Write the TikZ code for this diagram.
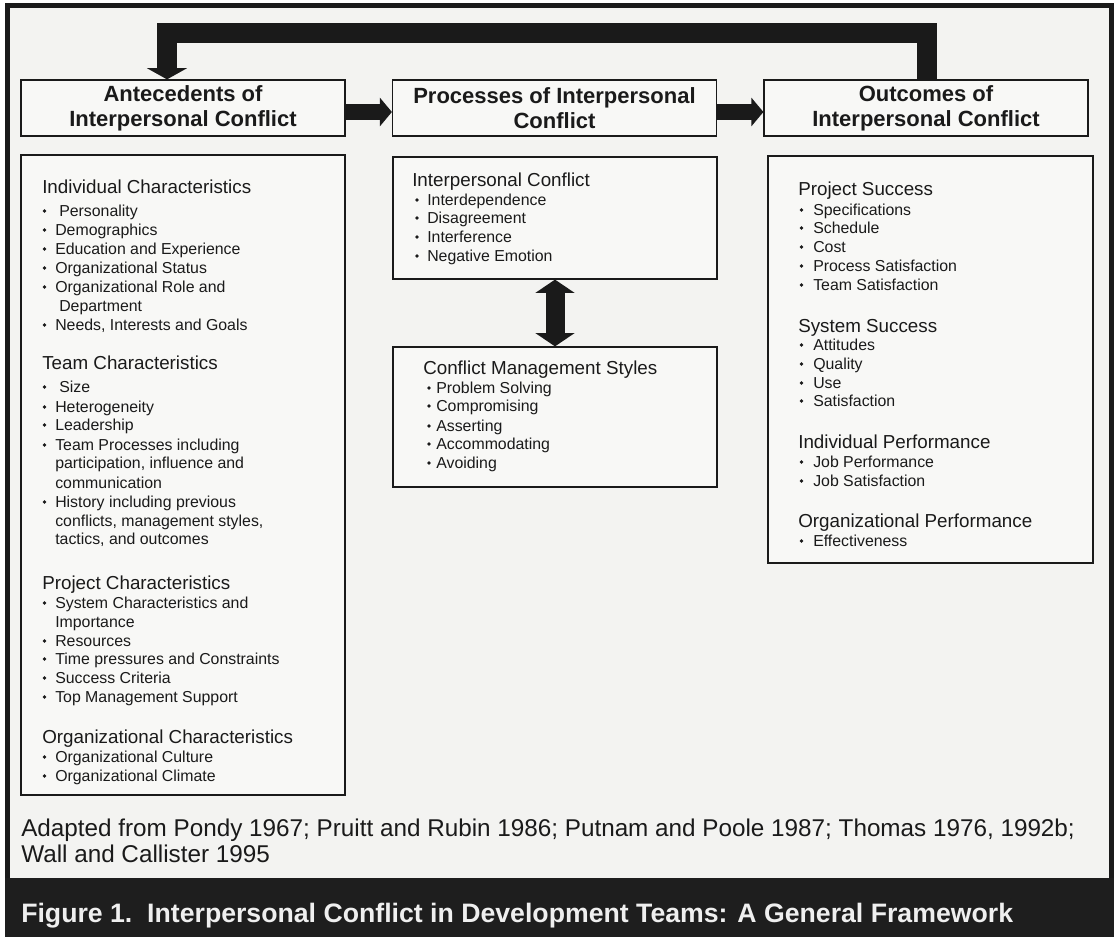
\documentclass[tikz,border=0pt]{standalone}
\usepackage{fontspec}
\setmainfont{Liberation Sans}
\usetikzlibrary{arrows.meta}
\definecolor{bg}{HTML}{F3F3F1}
\definecolor{boxc}{HTML}{F8F8F6}
\definecolor{ink}{HTML}{1A1A1A}
\definecolor{band}{HTML}{1E1E1E}
\definecolor{captxt}{HTML}{EFEFEF}
\newcounter{tn}
\newcommand\hdline[3]{\stepcounter{tn}\node[hdt] (t\arabic{tn}) at (#1,#2+6.8) {#3};}
\newcommand\bitem[4]{\stepcounter{tn}\node[bul] (b\arabic{tn}) at (#1,#3) {};\node[itt] (t\arabic{tn}) at (#2,#3+5.7) {#4};}
\newcommand\contline[3]{\stepcounter{tn}\node[itt] (t\arabic{tn}) at (#1,#2+5.7) {#3};}
\tikzset{
  hdt/.style={anchor=base west, inner sep=0pt, text=ink, font=\fontsize{14.1pt}{16pt}\selectfont},
  itt/.style={anchor=base west, inner sep=0pt, text=ink, font=\fontsize{11.9pt}{14pt}\selectfont},
  bul/.style={circle, fill=ink, inner sep=0pt, minimum size=2.7pt},
  box/.style={draw=ink, line width=0.9pt, fill=boxc, inner sep=0pt},
  hdr/.style={box, minimum width=243pt, minimum height=42pt, align=center, text=ink,
    font=\bfseries\fontsize{16.5pt}{18.75pt}\selectfont},
  srctext/.style={anchor=base west, inner sep=0pt, text=ink, font=\fontsize{18.2pt}{20pt}\selectfont},
  figcap/.style={anchor=base west, inner sep=0pt, text=captxt, font=\bfseries\fontsize{20pt}{22pt}\selectfont},
  fat/.style={draw=ink, line width=12pt, -{Triangle[length=9pt,width=21pt]}},
  feedback/.style={draw=ink, line width=14.5pt, line join=miter, -{Triangle[length=8.5pt,width=30pt]}},
  dbl/.style={draw=ink, line width=14.25pt, {Triangle[length=10pt,width=29pt]}-{Triangle[length=10pt,width=29pt]}}
}
\begin{document}
\begin{tikzpicture}[x=0.75pt,y=-0.75pt]
\useasboundingbox (0,0) rectangle (1118,937);
\fill[white] (0,0) rectangle (1118,937);
% frame and band
\fill[bg] (7.5,5.5) rectangle (1111,878);
\draw[ink, line width=3.75pt] (7.5,937) -- (7.5,5.5) -- (1111,5.5) -- (1111,937);
\fill[band] (5,878) rectangle (1113.5,937);

% header boxes
\node[hdr] (ante) at (183,108) {Antecedents of\\Interpersonal Conflict};
\node[hdr] (proc) at (554.5,108) {Processes of Interpersonal\\Conflict};
\node[hdr] (outc) at (926,108) {Outcomes of\\Interpersonal Conflict};

% content boxes
\node[box, minimum width=243pt, minimum height=480pt] (lbox) at (183,475) {};
\node[box, minimum width=243pt, minimum height=91.5pt] (ic) at (555,218) {};
\node[box, minimum width=243pt, minimum height=105pt] (cms) at (555,417) {};
\node[box, minimum width=243.75pt, minimum height=305.25pt] (rbox) at (930.5,359.5) {};

% arrows
\draw[fat] ([yshift=-3pt]ante.east) -- ([yshift=-3pt]proc.west);
\draw[fat] ([yshift=-3pt]proc.east) -- ([yshift=-3pt]outc.west);
\coordinate (fbR) at (927,33);
\coordinate (fbL) at (167,33);
\draw[feedback] (outc.north -| fbR) -- (fbR) -- (fbL) -- (ante.north -| fbL);
\draw[dbl] (ic.south) -- (cms.north);

% left box text
\hdline{42}{187}{Individual Characteristics}
\bitem{44.5}{59}{211}{Personality}
\bitem{44.5}{55}{230}{Demographics}
\bitem{44.5}{55}{249}{Education and Experience}
\bitem{44.5}{55}{268}{Organizational Status}
\bitem{44.5}{55}{287}{Organizational Role and}
\contline{59}{306}{Department}
\bitem{44.5}{55}{325}{Needs, Interests and Goals}
\hdline{42}{363}{Team Characteristics}
\bitem{44.5}{59}{387}{Size}
\bitem{44.5}{55}{407}{Heterogeneity}
\bitem{44.5}{55}{425}{Leadership}
\bitem{44.5}{55}{445}{Team Processes including}
\contline{55}{463}{participation, influence and}
\contline{55}{483}{communication}
\bitem{44.5}{55}{502}{History including previous}
\contline{55}{521}{conflicts, management styles,}
\contline{55}{539}{tactics, and outcomes}
\hdline{42}{583}{Project Characteristics}
\bitem{44.5}{55}{603}{System Characteristics and}
\contline{55}{622}{Importance}
\bitem{44.5}{55}{641}{Resources}
\bitem{44.5}{55}{659}{Time pressures and Constraints}
\bitem{44.5}{55}{678}{Success Criteria}
\bitem{44.5}{55}{697}{Top Management Support}
\hdline{42}{737}{Organizational Characteristics}
\bitem{44.5}{55}{757}{Organizational Culture}
\bitem{44.5}{55}{776}{Organizational Climate}

% middle top box
\hdline{412}{180}{Interpersonal Conflict}
\bitem{417}{427}{200}{Interdependence}
\bitem{417}{427}{218}{Disagreement}
\bitem{417}{427}{237}{Interference}
\bitem{417}{427}{256}{Negative Emotion}

% conflict management styles box
\hdline{423}{368}{Conflict Management Styles}
\bitem{429}{436}{388}{Problem Solving}
\bitem{429}{436}{406}{Compromising}
\bitem{429}{436}{426}{Asserting}
\bitem{429}{436}{444}{Accommodating}
\bitem{429}{436}{463}{Avoiding}

% right box
\hdline{798}{189}{Project Success}
\bitem{801.5}{813}{210}{Specifications}
\bitem{801.5}{813}{228}{Schedule}
\bitem{801.5}{813}{247}{Cost}
\bitem{801.5}{813}{266}{Process Satisfaction}
\bitem{801.5}{813}{285}{Team Satisfaction}
\hdline{798}{326}{System Success}
\bitem{801.5}{813}{345}{Attitudes}
\bitem{801.5}{813}{364}{Quality}
\bitem{801.5}{813}{383}{Use}
\bitem{801.5}{813}{401}{Satisfaction}
\hdline{798}{442}{Individual Performance}
\bitem{801.5}{813}{462}{Job Performance}
\bitem{801.5}{813}{481}{Job Satisfaction}
\hdline{798}{521}{Organizational Performance}
\bitem{801.5}{813}{541}{Effectiveness}

% source and caption
\node[srctext] (src1) at (21,836.5) {Adapted from Pondy 1967; Pruitt and Rubin 1986; Putnam and Poole 1987; Thomas 1976, 1992b;};
\node[srctext] (src2) at (21,862.5) {Wall and Callister 1995};
\node[figcap] (fig) at (21,922.5) {Figure 1.\ \ Interpersonal Conflict in Development Teams: A General Framework};
\end{tikzpicture}
\end{document}
